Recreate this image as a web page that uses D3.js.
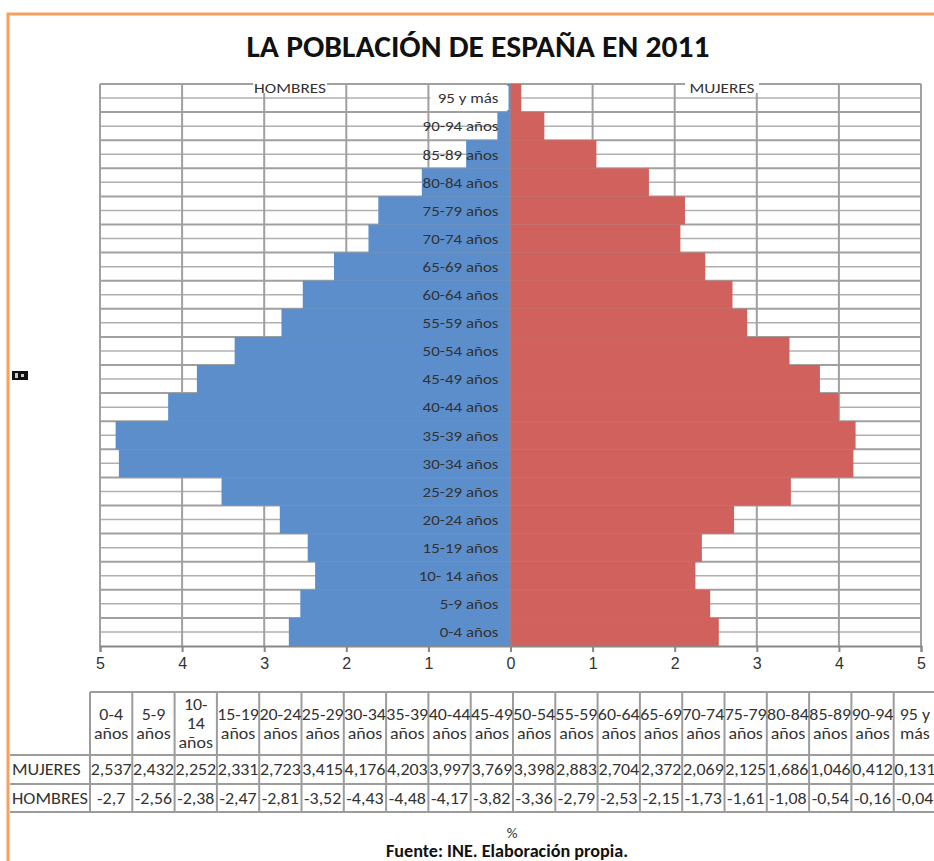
<!DOCTYPE html>
<html>
<head>
<meta charset="utf-8">
<script src="https://cdn.jsdelivr.net/npm/d3@7"></script>
<style>
  body { margin: 0; background: #fff; }
  svg { display: block; font-family: Calibri, Carlito, "Open Sans", sans-serif; }
</style>
</head>
<body>
<div id="chart"></div>
<script>
const width = 934;
const height = 861;

// age groups, bottom (0-4) to top (95+)
const ageGroups = ["0-4 años", "5-9 años", "10- 14 años", "15-19 años", "20-24 años",
  "25-29 años", "30-34 años", "35-39 años", "40-44 años", "45-49 años", "50-54 años",
  "55-59 años", "60-64 años", "65-69 años", "70-74 años", "75-79 años", "80-84 años",
  "85-89 años", "90-94 años", "95 y más"];
const tableHeaders = [["0-4", "años"], ["5-9", "años"], ["10-", "14", "años"],
  ["15-19", "años"], ["20-24", "años"], ["25-29", "años"], ["30-34", "años"],
  ["35-39", "años"], ["40-44", "años"], ["45-49", "años"], ["50-54", "años"],
  ["55-59", "años"], ["60-64", "años"], ["65-69", "años"], ["70-74", "años"],
  ["75-79", "años"], ["80-84", "años"], ["85-89", "años"], ["90-94", "años"],
  ["95 y", "más"]];
// values printed in the table
const mujeres = [2.537, 2.432, 2.252, 2.331, 2.723, 3.415, 4.176, 4.203, 3.997, 3.769,
  3.398, 2.883, 2.704, 2.372, 2.069, 2.125, 1.686, 1.046, 0.412, 0.131];
const hombres = [-2.7, -2.56, -2.38, -2.47, -2.81, -3.52, -4.43, -4.48, -4.17, -3.82,
  -3.36, -2.79, -2.53, -2.15, -1.73, -1.61, -1.08, -0.54, -0.16, -0.04];
// men bars as drawn (30-34 and 35-39 reach further than the table says)
const hombresBarras = [-2.7, -2.56, -2.38, -2.47, -2.81, -3.52, -4.77, -4.81, -4.17, -3.82,
  -3.36, -2.79, -2.53, -2.15, -1.73, -1.61, -1.08, -0.54, -0.16, -0.04];
const xTicks = [-5, -4, -3, -2, -1, 0, 1, 2, 3, 4, 5];

const blue = "#5b8ecb";
const red = "#d0615c";
const grid = "#a0a0a0";
const textCol = "#333";

const svg = d3.select("#chart").append("svg")
  .attr("width", width)
  .attr("height", height);

svg.append("rect").attr("width", width).attr("height", height).attr("fill", "#fff");

// text in the original looks a bit wider, so stretch it sideways
const at = (px, py, sx) => `translate(${px},${py}) scale(${sx},1)`;

// orange frame of the slide
svg.append("path")
  .attr("d", `M8,${height} L8,14 L${width},14`)
  .attr("fill", "none")
  .attr("stroke", "#f5a05c")
  .attr("stroke-width", 3);

// title
svg.append("text")
  .attr("x", 478).attr("y", 57)
  .attr("text-anchor", "middle")
  .attr("font-size", 30)
  .attr("font-weight", 600)
  .attr("textLength", 463)
  .attr("lengthAdjust", "spacingAndGlyphs")
  .attr("fill", "#111")
  .text("LA POBLACIÓN DE ESPAÑA EN 2011");

// scales
const x = d3.scaleLinear().domain([-5, 5]).range([100, 921]);
const y = d3.scaleBand().domain(ageGroups.slice().reverse()).range([84, 646]).padding(0);
const bw = y.bandwidth();

// gridlines
const g = svg.append("g");
g.selectAll("line.mid")
  .data(ageGroups)
  .join("line")
  .attr("x1", x(-5)).attr("x2", x(5))
  .attr("y1", d => y(d) + bw / 2).attr("y2", d => y(d) + bw / 2)
  .attr("stroke", "#b0b0b0").attr("stroke-width", 1.5);
g.selectAll("line.row")
  .data(ageGroups)
  .join("line")
  .attr("x1", x(-5)).attr("x2", x(5))
  .attr("y1", d => y(d)).attr("y2", d => y(d))
  .attr("stroke", grid).attr("stroke-width", 2);
g.selectAll("line.vert")
  .data(xTicks)
  .join("line")
  .attr("x1", d => x(d)).attr("x2", d => x(d))
  .attr("y1", 84).attr("y2", 646)
  .attr("stroke", grid).attr("stroke-width", 2);

// bars
svg.append("g").selectAll("rect")
  .data(hombresBarras)
  .join("rect")
  .attr("x", d => x(d))
  .attr("y", (d, i) => y(ageGroups[i]))
  .attr("width", d => x(0) - x(d))
  .attr("height", bw)
  .attr("fill", blue);
svg.append("g").selectAll("rect")
  .data(mujeres)
  .join("rect")
  .attr("x", x(0))
  .attr("y", (d, i) => y(ageGroups[i]))
  .attr("width", d => x(d) - x(0))
  .attr("height", bw)
  .attr("fill", red);

// white box behind the top label
svg.append("rect")
  .attr("x", x(-1) + 2).attr("y", y("95 y más") + 2)
  .attr("width", x(0) - x(-1) - 4).attr("height", bw - 4)
  .attr("fill", "#fff");

// category labels
svg.append("g").selectAll("text")
  .data(ageGroups)
  .join("text")
  .attr("transform", d => at(x(0) - 12, y(d) + bw / 2, 1.13))
  .attr("dy", "0.35em")
  .attr("text-anchor", "end")
  .attr("font-size", 15)
  .attr("fill", textCol)
  .text(d => d);

// sex labels at the top
[["HOMBRES", 290], ["MUJERES", 722]].forEach(([t, cx]) => {
  svg.append("rect").attr("x", cx - 37).attr("y", 79).attr("width", 74).attr("height", 14).attr("fill", "#fff");
  svg.append("text")
    .attr("transform", at(cx, 93, 1.15))
    .attr("text-anchor", "middle")
    .attr("font-size", 15)
    .attr("fill", textCol)
    .text(t);
});

// x axis
const axis = svg.append("g")
  .attr("transform", "translate(0,646)")
  .call(d3.axisBottom(x).tickValues(xTicks).tickFormat(d => Math.abs(d)).tickSize(6).tickPadding(6));
axis.select(".domain").attr("stroke", "#888").attr("stroke-width", 2);
axis.selectAll(".tick line").attr("stroke", "#888").attr("stroke-width", 2);
axis.selectAll(".tick text")
  .attr("font-size", 16)
  .attr("font-family", null)
  .attr("fill", textCol);

// small black marker on the left
svg.append("rect").attr("x", 12).attr("y", 371).attr("width", 16).attr("height", 9).attr("fill", "#111");
svg.append("rect").attr("x", 15).attr("y", 373).attr("width", 3).attr("height", 5).attr("fill", "#ccc");
svg.append("rect").attr("x", 21).attr("y", 374).attr("width", 3).attr("height", 3).attr("fill", "#ccc");

// data table
const fmt = d3.formatLocale({ decimal: ",", thousands: ".", grouping: [3], currency: ["", " €"], minus: "-" }).format("~g");
const col = d3.scaleBand().domain(d3.range(20)).range([90, 90 + 20 * 42.3]).padding(0);
const cw = col.bandwidth();
const tTop = 692, tHead = 755, tRow1 = 784, tBot = 812;
const table = svg.append("g");

// borders
table.append("line").attr("x1", 90).attr("x2", width).attr("y1", tTop).attr("y2", tTop);
[tHead, tRow1, tBot].forEach(v => {
  table.append("line").attr("x1", 10).attr("x2", width).attr("y1", v).attr("y2", v);
});
table.selectAll("line.c")
  .data(d3.range(20))
  .join("line")
  .attr("x1", d => col(d)).attr("x2", d => col(d))
  .attr("y1", tTop).attr("y2", tBot);
table.selectAll("line").attr("stroke", "#9c9c9c").attr("stroke-width", 2);

// header cells
tableHeaders.forEach((lines, i) => {
  const lh = 19;
  const y0 = (tTop + tHead) / 2 - (lines.length - 1) * lh / 2;
  lines.forEach((l, k) => {
    table.append("text")
      .attr("transform", at(col(i) + cw / 2, y0 + k * lh, 1.12))
      .attr("dy", "0.35em")
      .attr("text-anchor", "middle")
      .attr("font-size", 16)
      .attr("fill", textCol)
      .text(l);
  });
});

// value rows
[["MUJERES", mujeres, (tHead + tRow1) / 2], ["HOMBRES", hombres, (tRow1 + tBot) / 2]].forEach(([name, vals, cy]) => {
  table.append("text")
    .attr("transform", at(12, cy, 1.14))
    .attr("dy", "0.35em")
    .attr("font-size", 16)
    .attr("fill", textCol)
    .text(name);
  table.append("g").selectAll("text")
    .data(vals)
    .join("text")
    .attr("transform", (d, i) => at(col(i) + cw / 2, cy, 1.12))
    .attr("dy", "0.35em")
    .attr("text-anchor", "middle")
    .attr("font-size", 16)
    .attr("fill", textCol)
    .text(d => fmt(d));
});

// axis title and source
svg.append("text")
  .attr("x", 512).attr("y", 838)
  .attr("text-anchor", "middle")
  .attr("font-size", 15)
  .attr("fill", textCol)
  .text("%");
svg.append("text")
  .attr("transform", at(507, 857, 1.07))
  .attr("text-anchor", "middle")
  .attr("font-size", 17)
  .attr("font-weight", 700)
  .attr("fill", "#111")
  .text("Fuente: INE. Elaboración propia.");
</script>
</body>
</html>
